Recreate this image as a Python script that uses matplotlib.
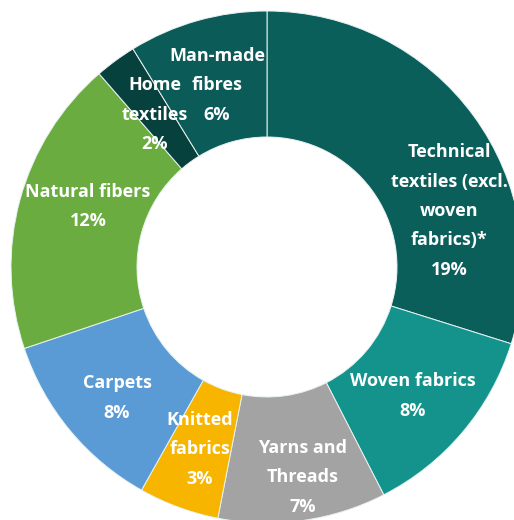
import matplotlib
matplotlib.use('Agg')
import matplotlib.pyplot as plt

# segments, clockwise from 12 o'clock
segments = ['Technical\ntextiles (excl.\nwoven\nfabrics)*', 'Woven fabrics', 'Yarns and\nThreads',
            'Knitted\nfabrics', 'Carpets', 'Natural fibers', 'Home\ntextiles', 'Man-made\nfibres']
shares = [19.4, 8.2, 6.9, 3.3, 7.6, 12.2, 1.7, 5.7]
pct_labels = ['19%', '8%', '7%', '3%', '8%', '12%', '2%', '6%']
colors = ['#0b5f5b', '#13938c', '#a3a3a3', '#f7b500', '#5b9bd5', '#6bac40', '#07413d', '#0b5c58']

# label anchor in pixels: x centre, baseline of first line (from top)
label_pos = [(449, 157), (413, 386), (303, 453), (200, 425), (117, 388), (88, 197), (155, 90), (217, 61)]
line_step = 29.5

W, H = 514, 520
fig = plt.figure(figsize=(W / 100, H / 100), dpi=100)
ax = fig.add_axes([0, 0, 1, 1])

ax.pie(shares, colors=colors, startangle=90, counterclock=False,
       center=(267, H - 267), radius=256,
       wedgeprops=dict(width=126, edgecolor='#e8f2f1', linewidth=0.7))

# one text per line so the two small top labels can interleave
for name, pct, (px, py) in zip(segments, pct_labels, label_pos):
    lines = name.split('\n') + [pct]
    for i, line in enumerate(lines):
        ax.text(px, H - (py + i * line_step), line, ha='center', va='baseline', color='white',
                fontsize=13, fontweight='bold', family='Open Sans')

ax.set_xlim(0, W)
ax.set_ylim(0, H)
ax.set_aspect('equal')
ax.axis('off')

fig.savefig('out.png', dpi=100)
